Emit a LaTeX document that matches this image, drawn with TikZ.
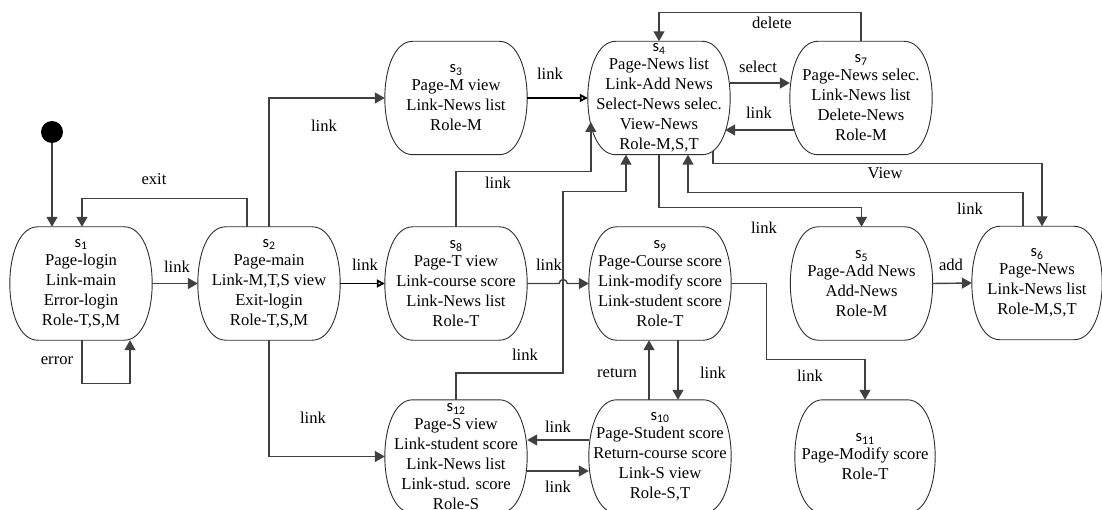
\documentclass[tikz,border=0pt]{standalone}
\usepackage{fontspec}
\setmainfont{Liberation Serif}
\newfontfamily\sansl{Carlito}
\usetikzlibrary{arrows.meta}
\definecolor{wire}{HTML}{404040}
\definecolor{rim}{HTML}{2E2E2E}
\newcommand\statefont{\fontsize{16.6}{20}\selectfont}
\newcommand\sname[1]{{\sansl s\textsubscript{#1}}\\[-2pt]}

\begin{document}
\begin{tikzpicture}[x=1pt,y=-1pt,
  state/.style={align=center, minimum width=142pt, minimum height=113pt, inner sep=0pt, font=\statefont},
  lbl/.style={font=\statefont, inner sep=0pt},
  arr/.style={draw=wire, line width=1.4pt, -{Triangle[length=10pt,width=11pt]}},
  heavy/.style={draw=black, line width=1.8pt, -{Triangle[open,length=8pt,width=8pt]}},
  rimline/.style={draw=rim, line width=0.9pt},
]
\useasboundingbox (0,0) rectangle (1102,510);

% states
\node[state] (s1) at (81,283.5) {\sname{1}Page-login\\Link-main\\Error-login\\Role-T,S,M};
\node[state] (s2) at (269,283.5) {\sname{2}Page-main\\Link-M,T,S view\\Exit-login\\Role-T,S,M};
\node[state] (s3) at (456,98) {\sname{3}Page-M view\\Link-News list\\Role-M};
\node[state] (s4) at (659,98) {\sname{4}Page-News list\\Link-Add News\\Select-News selec.\\View-News\\Role-M,S,T};
\node[state] (s5) at (861.5,283.5) {\sname{5}Page-Add News\\Add-News\\Role-M};
\node[state, minimum width=130pt] (s6) at (1037,283) {\sname{6}Page-News\\Link-News list\\Role-M,S,T};
\node[state] (s7) at (861,98) {\sname{7}Page-News selec.\\Link-News list\\Delete-News\\Role-M};
\node[state] (s8) at (456,283.5) {\sname{8}Page-T view\\Link-course score\\Link-News list\\Role-T};
\node[state] (s9) at (660,283.5) {\sname{9}Page-Course score\\Link-modify score\\Link-student score\\Role-T};
\node[state] (s10) at (660,456.5) {\sname{10}Page-Student score\\Return-course score\\Link-S view\\Role-S,T};
\node[state, minimum width=140pt] (s11) at (865,456.5) {\sname{11}Page-Modify score\\Role-T};
\node[state] (s12) at (456,456.5) {\sname{12}Page-S view\\Link-student score\\Link-News list\\Link-stud. score\\Role-S};

% state outlines: flat top and bottom, bulging sides
\foreach \n in {s1,s2,s3,s4,s5,s6,s7,s8,s9,s10,s11,s12} {
  \draw[rimline] ([xshift=28pt]\n.north west) -- ([xshift=-28pt]\n.north east)
    .. controls ([xshift=9.33pt]\n.north east) and ([xshift=9.33pt]\n.south east) .. ([xshift=-28pt]\n.south east)
    -- ([xshift=28pt]\n.south west)
    .. controls ([xshift=-9.33pt]\n.south west) and ([xshift=-9.33pt]\n.north west) .. cycle;
}

% initial state
\node[circle, fill=black, minimum size=22pt, inner sep=0pt] (init) at (52,132) {};
\draw[arr] (init) -- (init |- s1.north);

% transitions
\draw[arr] (s1.east) -- (s2.west);
\draw[arr] ([xshift=-22pt]s2.north) -- ++(0,-28) -| ([xshift=1pt]s1.north);
\draw[arr] ([xshift=1pt]s1.south) -- ++(0,43) -| ([xshift=49pt]s1.south);
\draw[arr] (s2.north) |- (s3.west);
\draw[heavy] (s2.east) -- (s8.west);
\draw[arr] (s2.south) |- (s12.west);
\draw[heavy] (s3.east) -- (s4.west);
\draw[arr] (s8.north) -- ++(0,-55) -| ([shift={(3,24)}]s4.west);
\draw[arr] (s12.north) -- ++(0,-27) -- ++(107,0) -- ++(0,-181) -| ([xshift=-33pt]s4.south);
\draw[arr] (s8.east) -- ([xshift=32pt]s8.east) arc[start angle=180, end angle=360, radius=4] -- (s9.west);
\draw[arr] ([yshift=15pt]s4.east) -- ([yshift=15pt]s7.west);
\draw[arr] ([shift={(5,32)}]s7.west) -- ([shift={(-5,32)}]s4.east);
\draw[arr] (s7.north) -- ++(0,-29) -| (s4.north);
\draw[arr] (s4.south) -- ++(0,53) -| (s5.north);
\draw[arr] ([xshift=-14pt]s6.north) -- ++(0,-34) -| ([xshift=29pt]s4.south);
\draw[arr] ([shift={(54,-4)}]s4.south) -- ++(0,13) -| ([xshift=5pt]s6.north);
\draw[arr] (s5.east) -- (s6.west);
\draw[arr] (s9.east) -- ++(35,0) -- ++(0,76) -| (s11.north);
\draw[arr] ([xshift=18pt]s9.south) -- ([xshift=18pt]s10.north);
\draw[arr] ([xshift=-11pt]s10.north) -- ([xshift=-11pt]s9.south);
\draw[arr] ([yshift=16.5pt]s10.west) -- ([yshift=16.5pt]s12.east);
\draw[arr] ([yshift=-14.5pt]s12.east) -- ([yshift=-14.5pt]s10.west);

% transition labels
\node[lbl] (l1) at (177,267) {link};
\node[lbl] (l2) at (154,179) {exit};
\node[lbl] (l3) at (57,361) {error};
\node[lbl] (l4) at (324,126) {link};
\node[lbl] (l5) at (365,265) {link};
\node[lbl] (l6) at (313,418) {link};
\node[lbl] (l7) at (550,74) {link};
\node[lbl] (l8) at (498,183) {link};
\node[lbl] (l9) at (525,355) {link};
\node[lbl] (l10) at (549,265) {link};
\node[lbl] (l11) at (758,67) {select};
\node[lbl] (l12) at (759,113) {link};
\node[lbl] (l13) at (772,23) {delete};
\node[lbl] (l14) at (885,173) {View};
\node[lbl] (l15) at (970,209) {link};
\node[lbl] (l16) at (764,228) {link};
\node[lbl] (l17) at (951,265) {add};
\node[lbl] (l18) at (810,376) {link};
\node[lbl] (l19) at (713,373) {link};
\node[lbl] (l20) at (617,373) {return};
\node[lbl] (l21) at (558,427) {link};
\node[lbl] (l22) at (558,487) {link};
\end{tikzpicture}
\end{document}
